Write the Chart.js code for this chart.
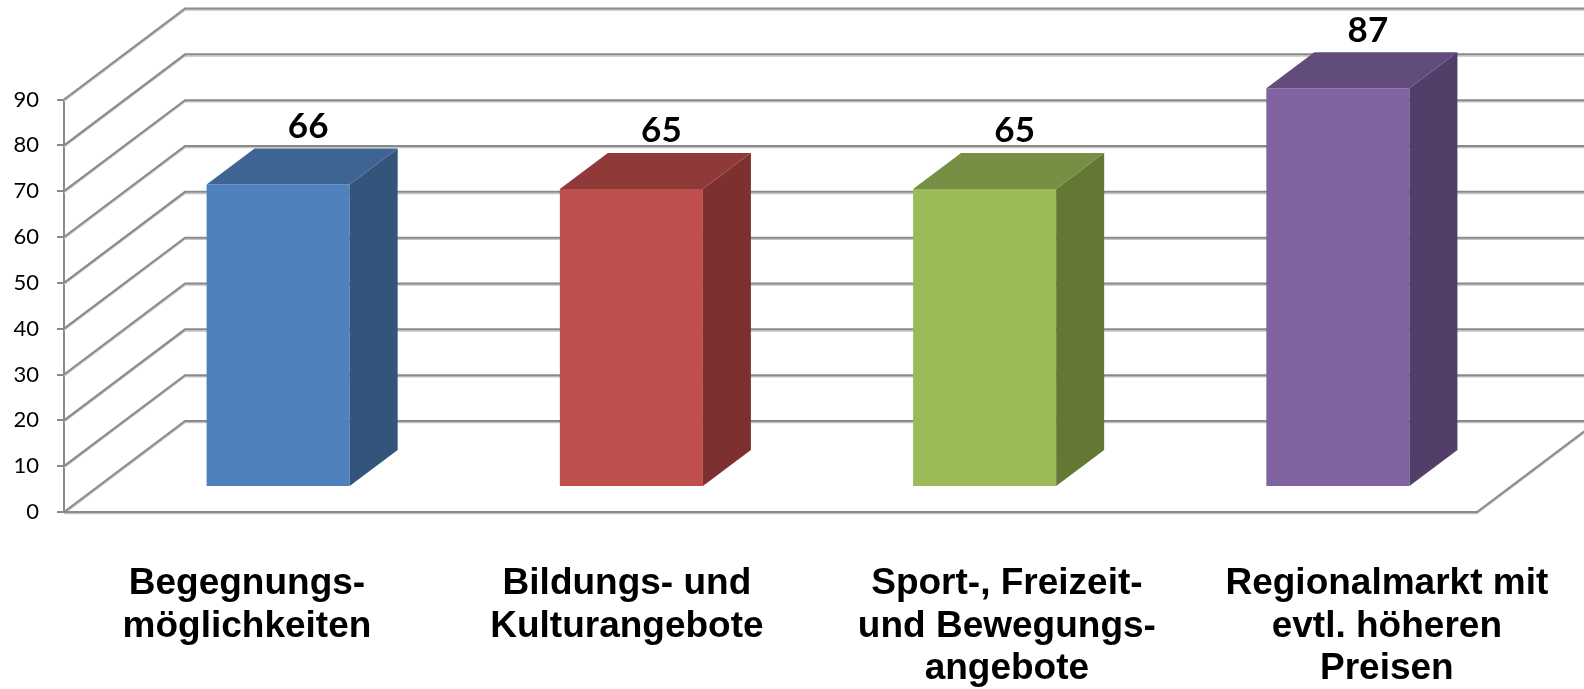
<!DOCTYPE html>
<html><head><meta charset="utf-8">
<script src="https://cdn.jsdelivr.net/npm/chart.js@4"></script>
<style>html,body{margin:0;padding:0;background:#fff;}canvas{display:block;}</style>
</head><body>
<canvas id="c" width="1584" height="689"></canvas>
<script>
const categories = [
  ["Begegnungs-", "möglichkeiten"],
  ["Bildungs- und", "Kulturangebote"],
  ["Sport-, Freizeit-", "und Bewegungs-", "angebote"],
  ["Regionalmarkt mit", "evtl. höheren", "Preisen"]
];
const values = [66, 65, 65, 87];
const valueLabels = ["66", "65", "65", "87"];
const yTickValues = [0, 10, 20, 30, 40, 50, 60, 70, 80, 90];
const frontColors = ["#4F81BD", "#C0504D", "#9BBB59", "#8064A2"];
const topColors = ["#3D6493", "#8F3A38", "#778F45", "#624C7C"];
const sideColors = ["#34547B", "#7C3130", "#647836", "#523F69"];

const WALL = { dx: 121, dy: -91 };
const FRONT = { dx: 37.5, dy: -25 };
const DEPTH = { dx: 48, dy: -36 };
const GRID = "#8a8a8a";
const GRID_SHADE = "#c4c4c4";

function pathTo(ctx, pts, oy) {
  ctx.beginPath();
  ctx.moveTo(pts[0][0], pts[0][1] + oy);
  for (let k = 1; k < pts.length; k++) ctx.lineTo(pts[k][0], pts[k][1] + oy);
  ctx.stroke();
}
function strokeGrid(ctx, pts) {
  ctx.lineWidth = 1.5;
  ctx.strokeStyle = GRID_SHADE;
  pathTo(ctx, pts, 1.6);
  ctx.lineWidth = 2;
  ctx.strokeStyle = GRID;
  pathTo(ctx, pts, 0);
}
function fillPoly(ctx, pts, color) {
  ctx.beginPath();
  ctx.moveTo(pts[0][0], pts[0][1]);
  for (let k = 1; k < pts.length; k++) ctx.lineTo(pts[k][0], pts[k][1]);
  ctx.closePath();
  ctx.fillStyle = color;
  ctx.fill();
}

const plugin3d = {
  id: "threeD",
  beforeDatasetsDraw(chart) {
    const { ctx, chartArea: a, scales: { y } } = chart;
    ctx.save();
    ctx.lineJoin = "miter";
    yTickValues.forEach(v => {
      const py = y.getPixelForValue(v);
      strokeGrid(ctx, [[a.left, py], [a.left + WALL.dx, py + WALL.dy], [chart.width + 10, py + WALL.dy]]);
    });
    const p0 = y.getPixelForValue(0);
    strokeGrid(ctx, [[a.left, p0], [a.right, p0], [a.right + WALL.dx, p0 + WALL.dy]]);
    ctx.restore();
  },
  beforeDatasetDraw(chart) {
    chart.ctx.save();
    chart.ctx.translate(FRONT.dx, FRONT.dy);
  },
  afterDatasetDraw(chart, args) {
    const ctx = chart.ctx;
    args.meta.data.forEach((el, i) => {
      const { x, y, base, width } = el.getProps(["x", "y", "base", "width"], true);
      const x0 = x - width / 2, x1 = x + width / 2;
      fillPoly(ctx, [[x0, y], [x1, y], [x1 + DEPTH.dx, y + DEPTH.dy], [x0 + DEPTH.dx, y + DEPTH.dy]], topColors[i]);
      fillPoly(ctx, [[x1, y], [x1 + DEPTH.dx, y + DEPTH.dy], [x1 + DEPTH.dx, base + DEPTH.dy], [x1, base]], sideColors[i]);
    });
    ctx.restore();
  },
  afterDatasetsDraw(chart) {
    const { ctx, chartArea: a, scales: { x: xs } } = chart;
    const meta = chart.getDatasetMeta(0);
    ctx.save();
    ctx.fillStyle = "#000";
    ctx.textAlign = "center";
    ctx.textBaseline = "middle";
    ctx.font = "bold 35px Lato, 'Open Sans', sans-serif";
    meta.data.forEach((el, i) => {
      const { x, y } = el.getProps(["x", "y"], true);
      ctx.fillText(valueLabels[i], x + FRONT.dx + 30, y + FRONT.dy + DEPTH.dy - 22);
    });
    ctx.font = "bold 37px 'Liberation Sans', Arial, sans-serif";
    chart.data.labels.forEach((lines, i) => {
      const cx = a.left + (xs.getPixelForValue(i) - a.left) * 1.0756 - 7;
      lines.forEach((t, k) => {
        ctx.fillText(t, cx, a.bottom + 72 + k * 42.5);
      });
    });
    ctx.restore();
  }
};

new Chart(document.getElementById("c"), {
  type: "bar",
  data: {
    labels: categories,
    datasets: [{
      data: values,
      backgroundColor: frontColors,
      borderWidth: 0,
      categoryPercentage: 1,
      barPercentage: 0.405,
      clip: false
    }]
  },
  options: {
    responsive: false,
    animation: false,
    devicePixelRatio: 1,
    layout: { padding: { left: 0, right: 107, top: 99.5, bottom: 177 } },
    plugins: { legend: { display: false }, tooltip: { enabled: false }, title: { display: false } },
    scales: {
      x: { type: "category", display: false },
      y: {
        min: 0, max: 90,
        afterFit: s => { s.width = 64; },
        ticks: { stepSize: 10, padding: 18, color: "#000", font: { family: "Lato", size: 22 } },
        grid: { drawOnChartArea: false, drawTicks: true, tickLength: 7, color: GRID, lineWidth: 2 },
        border: { display: true, color: GRID, width: 2 }
      }
    }
  },
  plugins: [plugin3d]
});
</script>
</body></html>
